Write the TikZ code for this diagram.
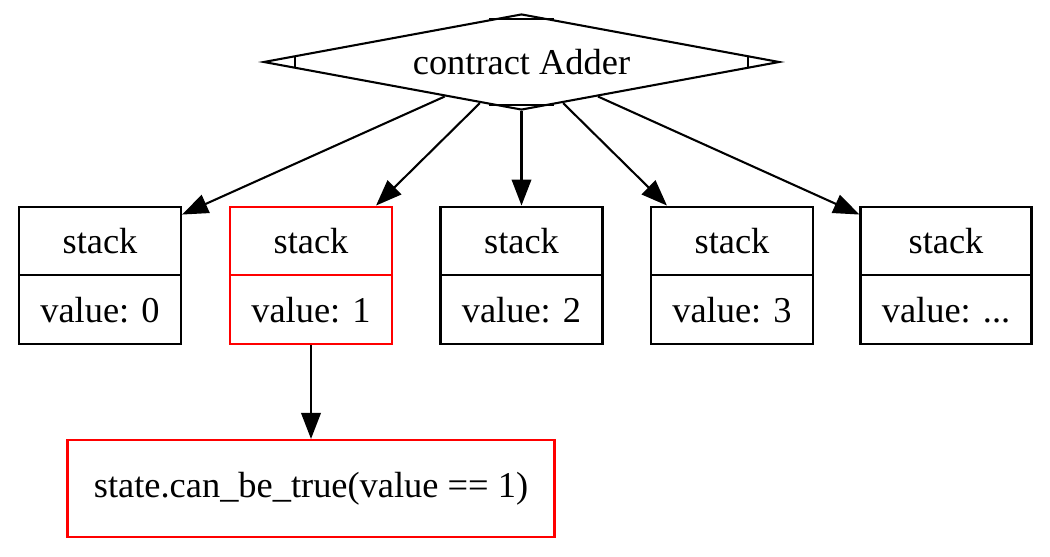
\documentclass[tikz,border=0pt]{standalone}
\usepackage{fontspec}
\setmainfont{Liberation Serif}
\usetikzlibrary{arrows.meta, shapes.geometric, shapes.multipart, calc}
\newcommand{\px}{0.01352cm}
\tikzset{
	every node/.style={
		font=\fontsize{14pt}{16pt}\selectfont
	},
	contract/.style={
		shape=diamond,
		draw,
		line width=0.8pt,
		inner sep=0pt,
		aspect=5.375,
		minimum width=516*\px,
		minimum height=96*\px
	},
	stackbox/.style={
		shape=rectangle split,
		rectangle split parts=2,
		draw=#1,
		line width=0.8pt,
		text height=9.5pt,
		text depth=0pt,
		inner ysep=8pt,
		minimum width=162*\px
	},
	stackbox/.default=black,
	check/.style={
		shape=rectangle,
		draw=red,
		line width=0.8pt,
		minimum width=487*\px,
		minimum height=97*\px
	},
	myarrow/.style={-{Triangle[length=10pt,width=7.5pt]}, line width=0.8pt}
}

\begin{document}
\begin{tikzpicture}[x=\px, y=-\px]
\useasboundingbox (0,0) rectangle (1050,556);

\node [contract] (adder) at (521.5,62) {contract Adder};
% corner marks of the diamond
\foreach \tip/\one/\two in {north/west/east, south/west/east, west/north/south, east/north/south}
	\draw [line width=0.8pt] ($(adder.\tip)!0.125!(adder.\one)$) -- ($(adder.\tip)!0.125!(adder.\two)$);

\node [stackbox] (s0) at (100,275.5) {stack \nodepart{two} value: 0};
\node [stackbox=red] (s1) at (311,275.5) {stack \nodepart{two} value: 1};
\node [stackbox] (s2) at (521.5,275.5) {stack \nodepart{two} value: 2};
\node [stackbox] (s3) at (732,275.5) {stack \nodepart{two} value: 3};
\node [stackbox, minimum width=171*\px] (s4) at (946,275.5) {stack \nodepart{two} value: ...};

\node [check] (cond) at (311,488.5) {state.can\_be\_true(value == 1)};

\draw [myarrow] (adder) -- ($(s0.north east)+(0,9)$);
\draw [myarrow] (adder) -- ($(s1.north east)+(-17,0)$);
\draw [myarrow] (adder) -- (s2.north);
\draw [myarrow] (adder) -- ($(s3.north west)+(17,0)$);
\draw [myarrow] (adder) -- ($(s4.north west)+(0,9)$);
\draw [myarrow] (s1.south) -- (cond.north);

\end{tikzpicture}
\end{document}
